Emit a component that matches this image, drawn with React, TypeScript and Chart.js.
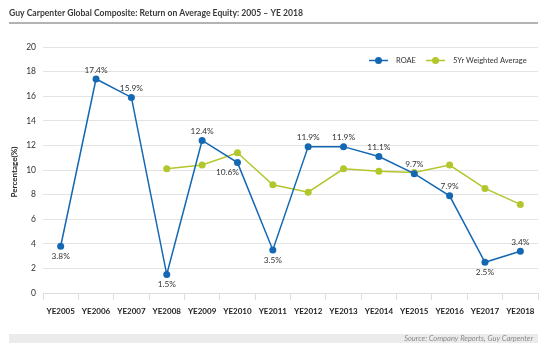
import React, { useEffect, useRef } from "react";
import { Chart, registerables } from "chart.js";

Chart.register(...registerables);

const categories = ["YE2005", "YE2006", "YE2007", "YE2008", "YE2009", "YE2010", "YE2011", "YE2012", "YE2013", "YE2014", "YE2015", "YE2016", "YE2017", "YE2018"];
const roae = [3.8, 17.4, 15.9, 1.5, 12.4, 10.6, 3.5, 11.9, 11.9, 11.1, 9.7, 7.9, 2.5, 3.4];
const weightedAvg = [null, null, null, 10.1, 10.4, 11.4, 8.8, 8.2, 10.1, 9.9, 9.8, 10.4, 8.5, 7.2];
const roaeLabelBelow = [true, false, false, true, false, true, true, false, false, false, false, false, true, false];
const roaeLabelShift = [0, 0, 0, 0, 0, -10, 0, 0, 0, 0, 0, 0, 0, 0];
const yTicks = [0, 2, 4, 6, 8, 10, 12, 14, 16, 18, 20];

const TITLE = "Guy Carpenter Global Composite: Return on Average Equity: 2005 \u2013 YE 2018";
const SOURCE = "Source: Company Reports, Guy Carpenter";
const BLUE = "#1468b3";
const GREEN = "#b3c62c";
const FONT = "Lato, 'Open Sans', sans-serif";

const decorPlugin = {
  id: "decor",
  afterDraw(chart: any) {
    const ctx = chart.ctx;
    ctx.save();
    // title
    ctx.fillStyle = "#3a3a3a";
    ctx.font = `bold 8.6px ${FONT}`;
    ctx.textAlign = "left";
    ctx.textBaseline = "alphabetic";
    ctx.fillText(TITLE, 9, 16);
    ctx.fillStyle = "#b3b3b3";
    ctx.fillRect(9, 22, 529, 2);
    // footer
    ctx.fillStyle = "#ebebeb";
    ctx.fillRect(9, 334, 529, 9);
    ctx.fillStyle = "#8a8a8a";
    ctx.font = `italic 7.5px ${FONT}`;
    ctx.textAlign = "right";
    ctx.fillText(SOURCE, 533, 341);
    // y title
    ctx.save();
    ctx.translate(14, 172);
    ctx.rotate(-Math.PI / 2);
    ctx.fillStyle = "#222";
    ctx.font = `bold 8px ${FONT}`;
    ctx.textAlign = "center";
    ctx.textBaseline = "middle";
    ctx.fillText("Percentage(%)", 0, 0);
    ctx.restore();
    // legend
    const ly = 60.5;
    const items = [
      { x: 369, color: BLUE, text: "ROAE" },
      { x: 426, color: GREEN, text: "5Yr Weighted Average" },
    ];
    ctx.font = `7.5px ${FONT}`;
    ctx.textAlign = "left";
    ctx.textBaseline = "middle";
    for (const it of items) {
      ctx.strokeStyle = it.color;
      ctx.lineWidth = 1.5;
      ctx.beginPath();
      ctx.moveTo(it.x, ly);
      ctx.lineTo(it.x + 19, ly);
      ctx.stroke();
      ctx.fillStyle = it.color;
      ctx.beginPath();
      ctx.arc(it.x + 9.5, ly, 3.5, 0, Math.PI * 2);
      ctx.fill();
      ctx.fillStyle = "#333";
      ctx.fillText(it.text, it.x + 27, ly + 0.5);
    }
    // data labels for ROAE
    const meta = chart.getDatasetMeta(0);
    ctx.font = `8.3px ${FONT}`;
    ctx.fillStyle = "#333";
    ctx.textAlign = "center";
    meta.data.forEach((pt: any, i: number) => {
      const below = roaeLabelBelow[i];
      ctx.textBaseline = below ? "top" : "bottom";
      ctx.fillText(roae[i].toFixed(1) + "%", pt.x + roaeLabelShift[i], below ? pt.y + 6 : pt.y - 5);
    });
    ctx.restore();
  },
};

export default function App() {
  const ref = useRef<HTMLCanvasElement>(null);
  useEffect(() => {
    const chart = new Chart(ref.current!, {
      type: "line",
      data: {
        labels: categories,
        datasets: [
          {
            label: "ROAE",
            data: roae,
            borderColor: BLUE,
            backgroundColor: BLUE,
            borderWidth: 1.5,
            pointRadius: 3.5,
            pointBackgroundColor: BLUE,
            pointBorderWidth: 0,
            tension: 0,
          },
          {
            label: "5Yr Weighted Average",
            data: weightedAvg,
            borderColor: GREEN,
            backgroundColor: GREEN,
            borderWidth: 1.5,
            pointRadius: 3.5,
            pointBackgroundColor: GREEN,
            pointBorderWidth: 0,
            tension: 0,
            spanGaps: false,
          },
        ],
      },
      options: {
        animation: false,
        responsive: false,
        devicePixelRatio: 1,
        layout: { padding: { top: 47, right: 12, bottom: 0, left: 0 } },
        plugins: { legend: { display: false }, title: { display: false }, tooltip: { enabled: false } },
        scales: {
          x: {
            type: "category",
            offset: true,
            grid: { offset: true, drawOnChartArea: false, drawTicks: true, tickLength: 7, color: "#dddddd", lineWidth: 1 },
            border: { display: true, color: "#dddddd", width: 1 },
            ticks: { color: "#222", font: { family: FONT, size: 8, weight: "bold" }, padding: 7, maxRotation: 0, autoSkip: false },
            afterFit: (s: any) => { s.height = 60; },
          },
          y: {
            min: 0,
            max: 20,
            afterBuildTicks: (s: any) => { s.ticks = yTicks.map((v) => ({ value: v })); },
            grid: { color: "#e3e3e3", lineWidth: 1, drawTicks: false },
            border: { display: false },
            ticks: { color: "#333", font: { family: FONT, size: 8.5 }, padding: 7 },
            afterFit: (s: any) => { s.width = 43; },
          },
        },
      },
      plugins: [decorPlugin],
    });
    return () => chart.destroy();
  }, []);
  return (
    <div style={{ position: "absolute", left: 0, top: 0, width: 550, height: 353, background: "#fff" }}>
      <canvas ref={ref} width={550} height={353} style={{ width: 550, height: 353, display: "block" }} />
    </div>
  );
}
